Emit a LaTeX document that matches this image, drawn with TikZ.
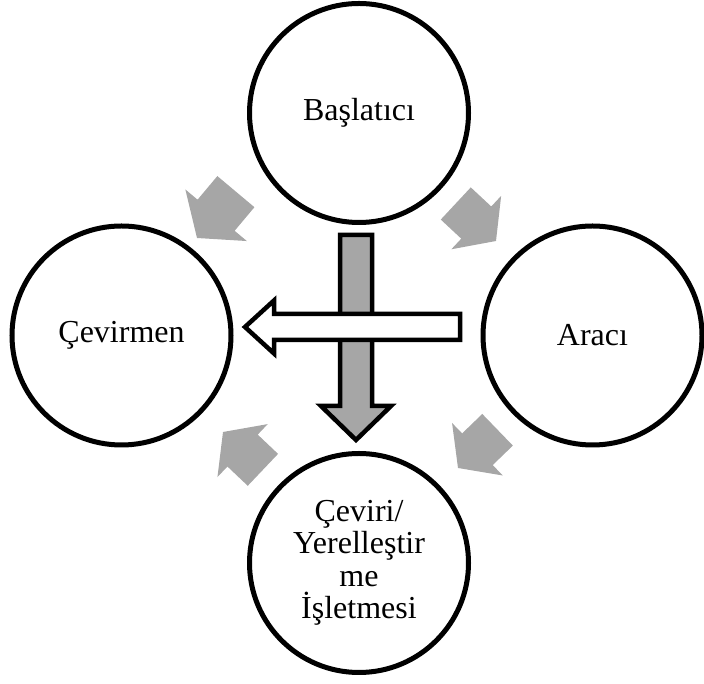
\documentclass[tikz,border=0pt]{standalone}
\usepackage{fontspec}
\setmainfont{Liberation Serif}
\usetikzlibrary{calc}
\definecolor{arrowgray}{RGB}{166,166,166}

\begin{document}
\begin{tikzpicture}[
    x=1pt, y=1pt,
    stage/.style={circle, draw, line width=5pt, fill=white, minimum size=219pt, inner sep=0pt, outer sep=0pt, align=center, font=\fontsize{32}{32.5}\selectfont},
    blockline/.style={draw, line width=4.5pt},
    cyclearrow/.pic={\fill[arrowgray] (0,0) -- (-27,36.5) -- (-27,22) -- (-55,22) -- (-55,-22) -- (-27,-22) -- (-27,-36.5) -- cycle;}
]
\useasboundingbox (0,0) rectangle (704,684);

\node[stage] (start) at (359,571) {Başlatıcı};
\node[stage] (broker) at (592.5,348.5) {Aracı};
\node[stage] (translator) at (121.5,348.5) {Çevirmen};
\node[stage] (firm) at (359,121) {Çeviri/\\Yerelleştir\\me\\İşletmesi};

\pic[rotate=230, scale=1.1] at (197,446) {cyclearrow};
\pic[rotate=-43] at (496,443) {cyclearrow};
\pic[rotate=224] at (458,216) {cyclearrow};
\pic[rotate=136.5] at (223,252) {cyclearrow};

\coordinate (vtop) at ([xshift=-3pt, yshift=-12.5pt]start.south);
\draw[blockline, fill=arrowgray] (vtop) ++(-16,0) -- ++(0,-171) -- ++(-19,0) -- ++(35,-34) -- ++(35,34) -- ++(-19,0) -- ++(0,171) -- cycle;

\coordinate (hright) at ([xshift=-23pt, yshift=8.5pt]broker.west);
\draw[blockline, fill=white] (hright) ++(0,13) -- ++(-186,0) -- ++(0,13.5) -- ++(-29,-26.5) -- ++(29,-26.5) -- ++(0,13.5) -- ++(186,0) -- cycle;
\end{tikzpicture}
\end{document}
